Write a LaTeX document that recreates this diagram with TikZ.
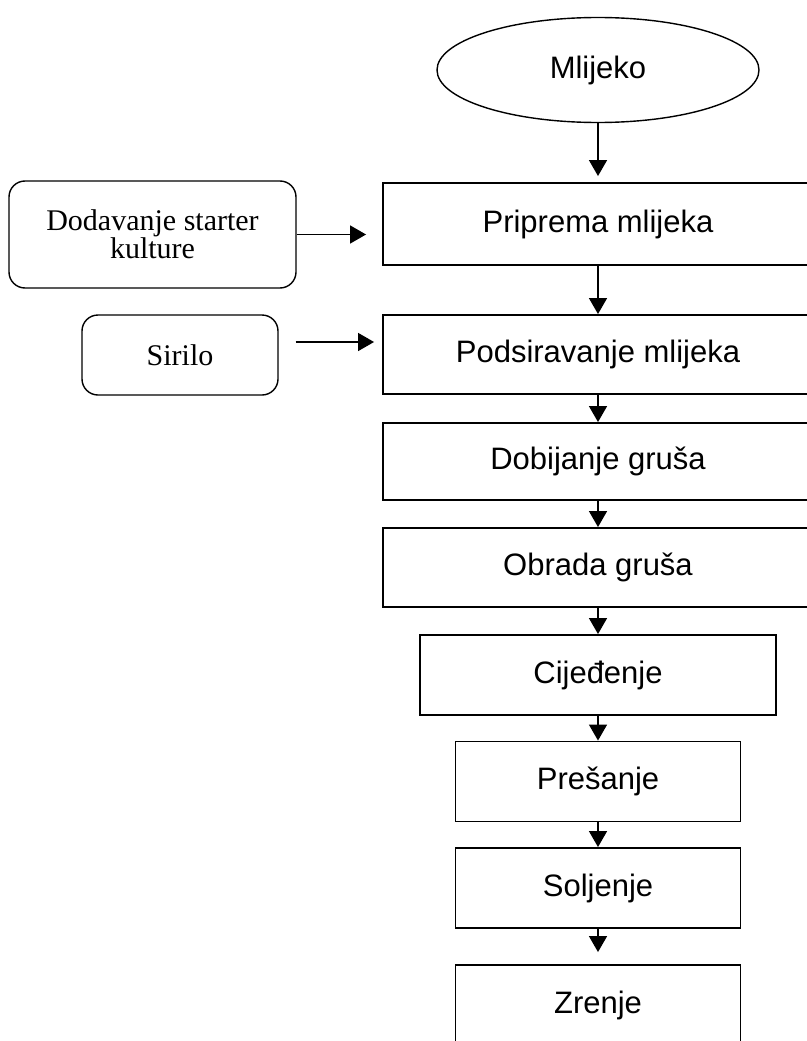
\documentclass[tikz,border=0pt]{standalone}
\usepackage{fontspec}
\setmainfont{Liberation Sans}
\newfontfamily\timesfont{Liberation Serif}
\usetikzlibrary{shapes.geometric,arrows.meta}

\begin{document}
\begin{tikzpicture}[x=1pt,y=-1pt,
		korak/.style={draw,rectangle,line width=1.9pt,inner sep=0pt,minimum height=80pt,font=\fontsize{31}{36}\selectfont},
		dodatak/.style={draw,rectangle,rounded corners=16pt,line width=1.4pt,inner sep=0pt,align=center,font=\timesfont\fontsize{30}{25}\selectfont},
		strelica/.style={line width=1.5pt,-{Triangle[width=18pt,length=16pt]}}]
		\useasboundingbox (0,0) rectangle (806,1041);
		\node[draw,ellipse,line width=1.4pt,inner sep=0pt,minimum width=322pt,minimum height=105pt,font=\fontsize{31}{36}\selectfont] (a) at (598, 70)		{Mlijeko};
		\node[korak,minimum width=430pt,minimum height=82pt] (b) at (598, 224)		{Priprema mlijeka};
		\node[korak,minimum width=430pt,minimum height=79pt] (c) at (598, 354.5)		{Podsiravanje mlijeka};
		\node[korak,minimum width=430pt,minimum height=77pt] (d) at (598, 461.5)		{Dobijanje gruša};
		\node[korak,minimum width=430pt,minimum height=79pt] (e) at (598, 567.5)		{Obrada gruša};
		\node[korak,minimum width=356pt] (f) at (598, 675)		{Cijeđenje};
		\node[korak,minimum width=285pt] (g) at (598, 781.5)		{Prešanje};
		\node[korak,minimum width=285pt] (h) at (598, 888)		{Soljenje};
		\node[korak,minimum width=285pt] (i) at (598, 1005)		{Zrenje};
		\node[dodatak,minimum width=287pt,minimum height=107pt] (s) at (152.5, 234.5)		{Dodavanje starter\\kulture};
		\node[dodatak,minimum width=196pt,minimum height=80pt] (r) at (180, 355)		{Sirilo};
		\coordinate (r1) at ([yshift=13pt]r.east);
		
		\draw[strelica,shorten >=6pt] (a) -- (b);
		\draw[strelica] (b) -- (c);
		\draw[strelica] (c) -- (d);
		\draw[strelica] (d) -- (e);
		\draw[strelica] (e) -- (f);
		\draw[strelica] (f) -- (g);
		\draw[strelica] (g) -- (h);
		\draw[strelica,shorten >=12pt] (h) -- (i);
		\draw[strelica,shorten >=16pt] (s.east) -- (s.east -| b.west);
		\draw[strelica,shorten <=17pt,shorten >=8pt] (r1) -- (r1 -| c.west);
	\end{tikzpicture}
\end{document}
